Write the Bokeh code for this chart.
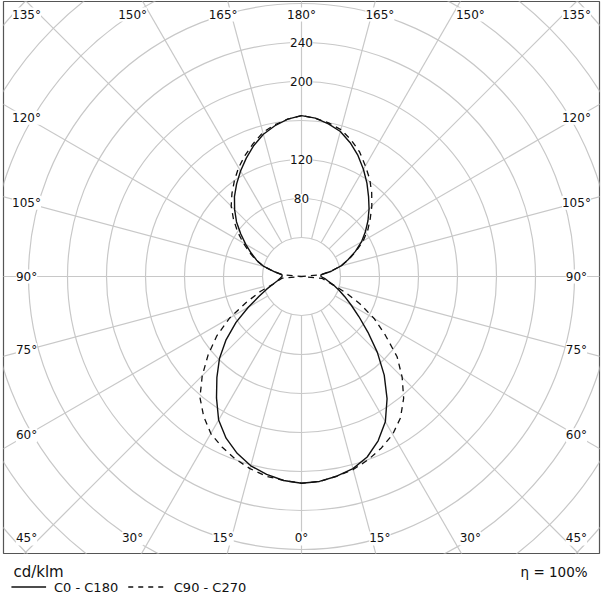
import math
from bokeh.plotting import figure
from bokeh.layouts import column
from bokeh.models import Range1d, ColumnDataSource, LabelSet
from bokeh.core.properties import value
from bokeh.embed import file_html
from bokeh.resources import INLINE

# ---------------- data (cd/klm) ----------------
theta = [0, 5, 10, 15, 20, 25, 30, 35, 40, 45, 50, 55, 60, 65, 70, 75, 80, 85, 90,
         95, 100, 105, 110, 115, 120, 125, 130, 135, 140, 145, 150, 155, 160, 165, 170, 175, 180]
c0 = [212, 211, 208, 204, 197, 186, 172, 153, 132, 110, 89, 72, 59, 49, 41, 34, 28, 24, 20,
      20, 31, 42, 51, 61, 71, 80, 89, 98, 107, 117, 127, 137, 146, 154, 159, 163, 165]
c180 = [212, 210, 206, 201, 193, 183, 170, 152, 135, 119, 101, 82, 63, 48, 38, 30, 25, 22, 20,
        20, 28, 40, 49, 57, 66, 76, 87, 97, 107, 116, 125, 134, 143, 151, 157, 162, 165]
c90 = [212, 211, 208, 205, 200, 194, 187, 177, 163, 146, 128, 105, 86, 66, 48, 34, 26, 21, 0,
       19, 30, 42, 52, 62, 73, 83, 92, 102, 112, 122, 131, 141, 149, 156, 160, 163, 165]
c270 = [212, 210, 208, 204, 199, 193, 186, 175, 162, 144, 125, 106, 85, 62, 45, 30, 24, 20, 0,
        19, 29, 40, 50, 59, 69, 80, 91, 102, 111, 120, 129, 137, 145, 153, 158, 162, 165]

rings = [40, 80, 120, 160, 200, 240, 280, 320, 360, 400, 440]
ring_labels = [80, 120, 200, 240]
spoke_angles = [0, 15, 30, 45, 60, 75, 90, 105, 120, 135, 150, 165, 180]
series_names = ["C0 - C180", "C90 - C270"]
unit_label = "cd/klm"
efficiency_label = "η = 100%"

FONT = value("DejaVu Sans")
GRID = "#c8c8c8"
INK = "#111111"

# ---------------- geometry ----------------
S = 0.975                       # px per cd/klm
W, H = 602, 555
BL, BR, BT, BB = 3, 3, 1, 2     # frame insets
FW, FH = W - BL - BR, H - BT - BB
CX, CY = 298, 275               # centre in frame px
x_range = Range1d(-CX / S, (FW - CX) / S)
y_range = Range1d(-(FH - CY) / S, CY / S)

p = figure(width=W, height=H, x_range=x_range, y_range=y_range,
           output_backend="svg", toolbar_location=None, tools="",
           min_border_left=BL, min_border_right=BR,
           min_border_top=BT, min_border_bottom=BB)
p.axis.visible = False
p.xgrid.visible = False
p.ygrid.visible = False
p.outline_line_color = "#555555"
p.outline_line_width = 1.2
p.background_fill_color = "white"
p.border_fill_color = "white"

# circles
p.circle(x=[0] * len(rings), y=[0] * len(rings), radius=rings,
         fill_color=None, line_color=GRID, line_width=1.2)

# spokes (every 15 deg, both halves)
xs, ys = [], []
for a in range(0, 360, 15):
    t = math.radians(a)
    xs.append([40 * math.sin(t), 700 * math.sin(t)])
    ys.append([-40 * math.cos(t), -700 * math.cos(t)])
p.multi_line(xs=xs, ys=ys, line_color=GRID, line_width=1.2)

# angle labels
XI, YT, YB, YFAR = 282.0, 268.7, -268.7, 300.0
lx, ly, lt = [], [], []
for a in spoke_angles:
    sides = [-1, 1] if 0 < a < 180 else [1]
    for side in sides:
        t = math.radians(a)
        sx, cy = math.sin(t), -math.cos(t)
        rv = XI / abs(sx) if abs(sx) > 1e-9 else 1e9
        rh = YFAR / abs(cy) if abs(cy) > 1e-9 else 1e9
        if rv <= rh:
            x = side * XI
            y = rv * cy
            y = max(min(y, YT), YB)
        else:
            x = side * max(min(rh * sx, XI), -XI)
            y = YT if cy > 0 else YB
        if a in (0, 180):
            x = 0.0
        lx.append(x)
        ly.append(y)
        lt.append(f"{a}°")
ang_src = ColumnDataSource(dict(x=lx, y=ly, text=lt))
p.add_layout(LabelSet(x="x", y="y", text="text", source=ang_src,
                      text_align="center", text_baseline="middle",
                      text_font=FONT, text_font_size="12px", text_color=INK,
                      background_fill_color="white", background_fill_alpha=1.0))

# ring labels
ring_src = ColumnDataSource(dict(x=[0] * len(ring_labels), y=ring_labels,
                                 text=[str(v) for v in ring_labels]))
p.add_layout(LabelSet(x="x", y="y", text="text", source=ring_src,
                      text_align="center", text_baseline="middle",
                      text_font=FONT, text_font_size="12px", text_color=INK,
                      background_fill_color="white", background_fill_alpha=1.0))


def polar_path(left, right):
    px, py = [], []
    for a, r in zip(reversed(theta), reversed(left)):
        t = math.radians(a)
        px.append(-r * math.sin(t))
        py.append(-r * math.cos(t))
    for a, r in zip(theta, right):
        t = math.radians(a)
        px.append(r * math.sin(t))
        py.append(-r * math.cos(t))
    return px, py


sx_, sy_ = polar_path(c180, c0)
dx_, dy_ = polar_path(c270, c90)
p.line(dx_, dy_, line_color=INK, line_width=1.3, line_dash="6 5")
p.line(sx_, sy_, line_color=INK, line_width=1.4)

# ---------------- legend strip ----------------
LH = 41
q = figure(width=W, height=LH, x_range=Range1d(0, W), y_range=Range1d(LH, 0),
           output_backend="svg", toolbar_location=None, tools="",
           min_border=0, min_border_left=0, min_border_right=0,
           min_border_top=0, min_border_bottom=0)
q.axis.visible = False
q.xgrid.visible = False
q.ygrid.visible = False
q.outline_line_color = None
q.background_fill_color = "white"
q.border_fill_color = "white"

q.text(x=[10], y=[16.5], text=[unit_label], text_font=FONT, text_font_size="15px",
       text_align="left", text_baseline="middle", text_color=INK)
q.text(x=[590], y=[16.5], text=[efficiency_label], text_font=FONT, text_font_size="13.5px",
       text_align="right", text_baseline="middle", text_color=INK)
q.line(x=[8, 43], y=[31.5, 31.5], line_color=INK, line_width=1.3)
q.text(x=[51], y=[31.5], text=[series_names[0]], text_font=FONT, text_font_size="13px",
       text_align="left", text_baseline="middle", text_color=INK)
q.line(x=[126, 165], y=[31.5, 31.5], line_color=INK, line_width=1.3, line_dash="5 5")
q.text(x=[172], y=[31.5], text=[series_names[1]], text_font=FONT, text_font_size="13px",
       text_align="left", text_baseline="middle", text_color=INK)

layout = column(p, q, spacing=0)
open("out.html", "w").write(file_html(layout, INLINE))
